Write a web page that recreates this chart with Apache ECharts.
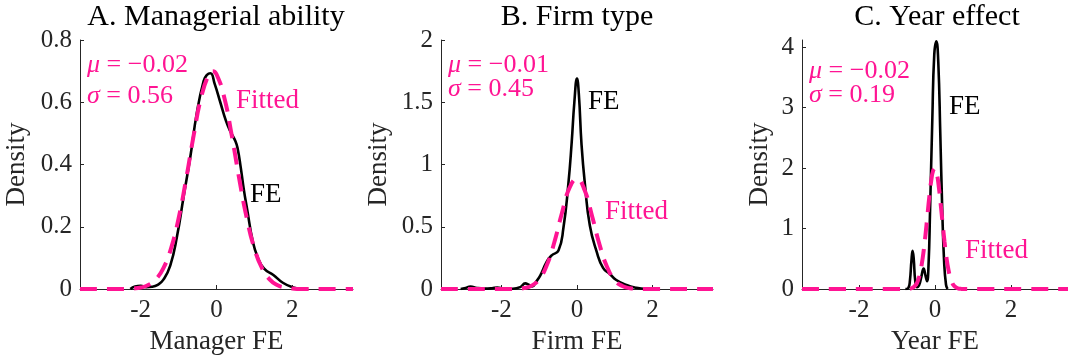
<!DOCTYPE html>
<html><head><meta charset="utf-8">
<script src="https://cdn.jsdelivr.net/npm/echarts@6/dist/echarts.min.js"></script>
<style>html,body{margin:0;padding:0;background:#fff}#c{width:1068px;height:362px}</style>
</head><body><div id="c"></div>
<script>
// ---- text ----
const titles = ['A. Managerial ability', 'B. Firm type', 'C. Year effect'];
const xNames = ['Manager FE', 'Firm FE', 'Year FE'];
const yName = 'Density';
const muLabels = ['−0.02', '−0.01', '−0.02'];
const sigmaLabels = ['0.56', '0.45', '0.19'];
const feLabel = 'FE';
const fitLabel = 'Fitted';

// ---- ticks ----
const xTicks = [-2, 0, 2];
const yTicksA = [0, 0.2, 0.4, 0.6, 0.8];
const yTicksB = [0, 0.5, 1, 1.5, 2];
const yTicksC = [0, 1, 2, 3, 4];

// ---- panel A: managerial ability ----
const feAx = [-2.27,-2.15,-2.0,-1.85,-1.7,-1.55,-1.4,-1.22,-1.04,-0.87,-0.69,-0.52,-0.34,-0.25,-0.16,-0.05,0.1,0.25,0.37,0.5,0.56,0.64,0.72,0.81,0.95,1.08,1.25,1.5,1.75,2.0,2.27];
const feAy = [0,0.008,0.01,0.006,0.007,0.013,0.03,0.075,0.17,0.295,0.425,0.565,0.668,0.688,0.693,0.66,0.6,0.54,0.505,0.475,0.45,0.39,0.32,0.255,0.157,0.104,0.066,0.045,0.02,0.006,0];
const fitAx = [-3.6,-2.4,-2.2,-2.0,-1.8,-1.6,-1.4,-1.2,-1.0,-0.8,-0.6,-0.4,-0.2,-0.1,0,0.2,0.4,0.6,0.8,1.0,1.2,1.4,1.6,1.8,2.0,2.2,3.6];
const fitAy = [0,0,0.0015,0.0046,0.0126,0.031,0.067,0.130,0.227,0.354,0.495,0.618,0.690,0.700,0.690,0.618,0.495,0.354,0.227,0.130,0.067,0.031,0.0126,0.0046,0.0015,0,0];

// ---- panel B: firm type ----
const feBx = [-3.08,-2.95,-2.82,-2.65,-2.45,-2.25,-2.11,-1.95,-1.7,-1.5,-1.37,-1.28,-1.19,-1.08,-0.97,-0.8,-0.67,-0.49,-0.36,-0.23,-0.14,-0.07,0,0.05,0.12,0.21,0.34,0.52,0.69,0.87,1.04,1.31,1.57,1.83];
const feBy = [0,0.008,0.02,0.008,0.003,0.006,0.012,0.004,0.002,0.015,0.045,0.035,0.02,0.06,0.11,0.22,0.27,0.31,0.49,0.84,1.18,1.5,1.69,1.56,1.16,0.84,0.51,0.30,0.17,0.12,0.072,0.032,0.01,0];
const fitBx = [-3.6,-2.0,-1.8,-1.6,-1.4,-1.2,-1.0,-0.8,-0.6,-0.4,-0.2,0,0.2,0.4,0.6,0.8,1.0,1.2,1.4,1.6,1.8,2.0,3.6];
const fitBy = [0,0,0.0003,0.0017,0.0075,0.027,0.079,0.190,0.375,0.608,0.811,0.886,0.795,0.585,0.353,0.175,0.071,0.024,0.0065,0.0015,0.0003,0,0];

// ---- panel C: year effect ----
const feCx = [-0.78,-0.7,-0.66,-0.62,-0.59,-0.56,-0.52,-0.47,-0.42,-0.36,-0.3,-0.25,-0.21,-0.17,-0.13,-0.07,-0.02,0.035,0.086,0.14,0.19,0.24,0.29,0.33];
const feCy = [0,0.02,0.14,0.47,0.63,0.5,0.14,0.03,0.06,0.2,0.34,0.22,0.13,0.4,1.3,2.82,3.87,4.1,3.76,2.55,1.33,0.45,0.07,0];
const fitCx = [-3.5,-1.0,-0.8,-0.7,-0.6,-0.5,-0.45,-0.4,-0.35,-0.3,-0.25,-0.2,-0.15,-0.1,-0.05,0,0.05,0.1,0.15,0.2,0.25,0.3,0.35,0.4,0.45,0.5,0.6,0.7,0.8,1.0,3.5];
const fitCy = [0,0,0.0004,0.003,0.016,0.072,0.137,0.243,0.404,0.624,0.90,1.213,1.524,1.788,1.956,1.997,1.902,1.691,1.403,1.086,0.785,0.528,0.332,0.195,0.107,0.055,0.012,0.002,0.0002,0,0];

// ---- build ----
const zip = (xs, ys) => xs.map((x, i) => [x, ys[i]]);
const FONT = 'Liberation Serif';
const AXC = '#262626';
const PINK = '#FF1493';

const panels = [
  {grid:{left:80, top:40, width:273, height:249}, xr:[-3.6,3.6], ymax:0.8, yt:yTicksA, fe:zip(feAx,feAy), fit:zip(fitAx,fitAy), yGap:50},
  {grid:{left:441, top:40, width:272, height:249}, xr:[-3.6,3.6], ymax:2, yt:yTicksB, fe:zip(feBx,feBy), fit:zip(fitBx,fitBy), yGap:49},
  {grid:{left:802, top:40, width:271, height:249}, xr:[-3.5,3.5], ymax:4.12, yt:yTicksC, fe:zip(feCx,feCy), fit:zip(fitCx,fitCy), yGap:29}
];

const grid = [], xAxis = [], yAxis = [], series = [];
panels.forEach((p, i) => {
  grid.push(p.grid);
  xAxis.push({
    type:'value', gridIndex:i, min:p.xr[0], max:p.xr[1],
    name:xNames[i], nameLocation:'middle', nameGap:39,
    nameTextStyle:{fontFamily:FONT, fontSize:27, color:AXC},
    axisLine:{show:true, onZero:false, lineStyle:{color:AXC, width:1}},
    axisTick:{show:true, inside:true, length:4, customValues:xTicks, lineStyle:{color:AXC}},
    axisLabel:{customValues:xTicks, fontFamily:FONT, fontSize:25, color:AXC, margin:9, formatter:v=>String(v)},
    splitLine:{show:false}
  });
  yAxis.push({
    type:'value', gridIndex:i, min:0, max:p.ymax,
    name:yName, nameLocation:'middle', nameGap:p.yGap, nameRotate:90,
    nameTextStyle:{fontFamily:FONT, fontSize:27, color:AXC},
    axisLine:{show:true, onZero:false, lineStyle:{color:AXC, width:1}},
    axisTick:{show:true, inside:true, length:4, customValues:p.yt, lineStyle:{color:AXC}},
    axisLabel:{customValues:p.yt, fontFamily:FONT, fontSize:25, color:AXC, margin:8, formatter:v=>String(v)},
    splitLine:{show:false}
  });
  series.push({
    type:'line', xAxisIndex:i, yAxisIndex:i, data:p.fe, showSymbol:false, smooth:0.5,
    lineStyle:{color:'#000', width:2.6}, z:2, silent:true
  });
  series.push({
    type:'line', xAxisIndex:i, yAxisIndex:i, data:p.fit, showSymbol:false, smooth:0.5,
    lineStyle:{color:PINK, width:4, type:[17,10]}, z:3, silent:true
  });
});

function txt(x, y, s, size, color, align, rich) {
  return {type:'text', x, y, silent:true, style:{
    text:s, fill:color, fontFamily:FONT, fontSize:size, align:align||'left', verticalAlign:'middle', rich:rich
  }};
}
const richMu = {i:{fontStyle:'italic', fontFamily:FONT, fontSize:26, fill:PINK}};
const graphic = [
  txt(216, 17, titles[0], 30, '#000', 'center'),
  txt(577, 17, titles[1], 30, '#000', 'center'),
  txt(937, 17, titles[2], 30, '#000', 'center'),
  txt(87, 65, '{i|μ} = ' + muLabels[0], 26, PINK, 'left', richMu),
  txt(87, 96, '{i|σ} = ' + sigmaLabels[0], 26, PINK, 'left', richMu),
  txt(448, 65, '{i|μ} = ' + muLabels[1], 26, PINK, 'left', richMu),
  txt(448, 89, '{i|σ} = ' + sigmaLabels[1], 26, PINK, 'left', richMu),
  txt(809, 71, '{i|μ} = ' + muLabels[2], 26, PINK, 'left', richMu),
  txt(809, 95, '{i|σ} = ' + sigmaLabels[2], 26, PINK, 'left', richMu),
  txt(236, 101, fitLabel, 27, PINK),
  txt(250, 195, feLabel, 27, '#000'),
  txt(588, 102, feLabel, 27, '#000'),
  txt(605, 212, fitLabel, 27, PINK),
  txt(949, 107, feLabel, 27, '#000'),
  txt(965, 251, fitLabel, 27, PINK)
];

const chart = echarts.init(document.getElementById('c'), null, {renderer:'canvas'});
chart.setOption({animation:false, backgroundColor:'#fff', grid, xAxis, yAxis, series, graphic});
</script></body></html>
